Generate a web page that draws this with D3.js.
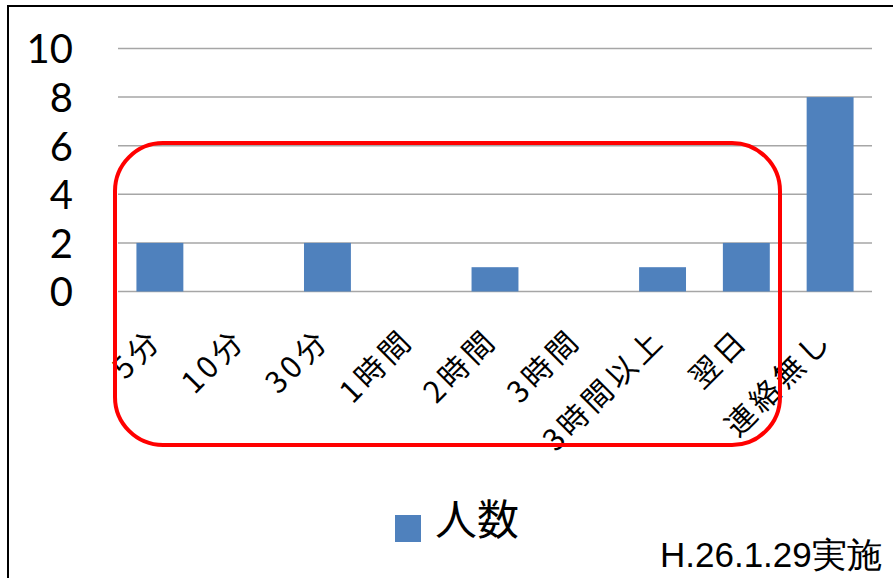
<!DOCTYPE html>
<html>
<head>
<meta charset="utf-8">
<script src="https://cdnjs.cloudflare.com/ajax/libs/d3/7.8.5/d3.min.js"></script>
<style>
    html, body { margin: 0; padding: 0; background: #fff; overflow: hidden; }
    svg { display: block; }
</style>
</head>
<body>
<script>
var categories = ["5分", "10分", "30分", "1時間", "2時間", "3時間", "3時間以上", "翌日", "連絡無し"];
var counts = [2, 0, 2, 0, 1, 0, 1, 2, 8];
var yTicks = [0, 2, 4, 6, 8, 10];
var seriesName = "人数";
var noteText = "H.26.1.29実施";

(function () {
    var width = 893, height = 578;
    var plot = {left: 118, right: 872, top: 48.5, bottom: 291.5};
    var barColor = "#4f81bd";
    var jpFont = "'Noto Sans CJK JP', sans-serif";

    var svg = d3.select("body").append("svg")
        .attr("width", width)
        .attr("height", height);

    // outer frame (runs off the right and bottom edge)
    svg.append("rect")
        .attr("x", 8).attr("y", 6)
        .attr("width", width + 20).attr("height", height + 20)
        .attr("fill", "none")
        .attr("stroke", "#000")
        .attr("stroke-width", 2);

    var x = d3.scaleBand()
        .domain(categories)
        .range([plot.left, plot.right])
        .paddingInner(0.44)
        .paddingOuter(0.22);

    var y = d3.scaleLinear()
        .domain([0, 10])
        .range([plot.bottom, plot.top]);

    // gridlines
    svg.append("g")
        .selectAll("line")
        .data(yTicks)
        .enter().append("line")
        .attr("x1", plot.left)
        .attr("x2", plot.right)
        .attr("y1", function (d) { return y(d); })
        .attr("y2", function (d) { return y(d); })
        .attr("stroke", "#a6a6a6")
        .attr("stroke-width", 1.5);

    // y axis labels, no axis line
    var yAxis = d3.axisLeft(y).tickValues(yTicks).tickSize(0).tickPadding(0);
    var gy = svg.append("g")
        .attr("transform", "translate(73,0)")
        .call(yAxis);
    gy.select(".domain").remove();
    gy.selectAll("text")
        .attr("font-family", "Lato, 'Open Sans', sans-serif")
        .attr("font-size", 40)
        .attr("fill", "#000")
        .attr("dy", "0.36em");

    // bars
    svg.append("g")
        .selectAll("rect")
        .data(counts)
        .enter().append("rect")
        .attr("x", function (d, i) { return x(categories[i]); })
        .attr("width", x.bandwidth())
        .attr("y", function (d) { return y(d); })
        .attr("height", function (d) { return y(0) - y(d); })
        .attr("fill", barColor);

    // rotated category labels
    svg.append("g")
        .selectAll("text")
        .data(categories)
        .enter().append("text")
        .attr("transform", function (d) {
            var cx = x(d) + x.bandwidth() / 2 + 4;
            return "translate(" + cx + ",342) rotate(-45)";
        })
        .attr("text-anchor", "end")
        .attr("font-family", jpFont)
        .attr("font-size", 30)
        .attr("letter-spacing", 4)
        .attr("fill", "#000")
        .text(function (d) { return d; });

    // red highlight box
    svg.append("rect")
        .attr("x", 115).attr("y", 143)
        .attr("width", 665).attr("height", 302)
        .attr("rx", 48).attr("ry", 48)
        .attr("fill", "none")
        .attr("stroke", "#ff0000")
        .attr("stroke-width", 4);

    // legend
    var legend = svg.append("g").attr("transform", "translate(395,515)");
    legend.append("rect")
        .attr("width", 26).attr("height", 27)
        .attr("fill", barColor);
    legend.append("text")
        .attr("x", 40).attr("y", 20)
        .attr("font-family", jpFont)
        .attr("font-size", 42)
        .attr("fill", "#000")
        .text(seriesName);

    // date note
    svg.append("text")
        .attr("x", 660).attr("y", 567)
        .attr("font-family", "'Liberation Sans', Arial, sans-serif")
        .attr("font-size", 35)
        .attr("fill", "#000")
        .text(noteText);
})();
</script>
</body>
</html>
